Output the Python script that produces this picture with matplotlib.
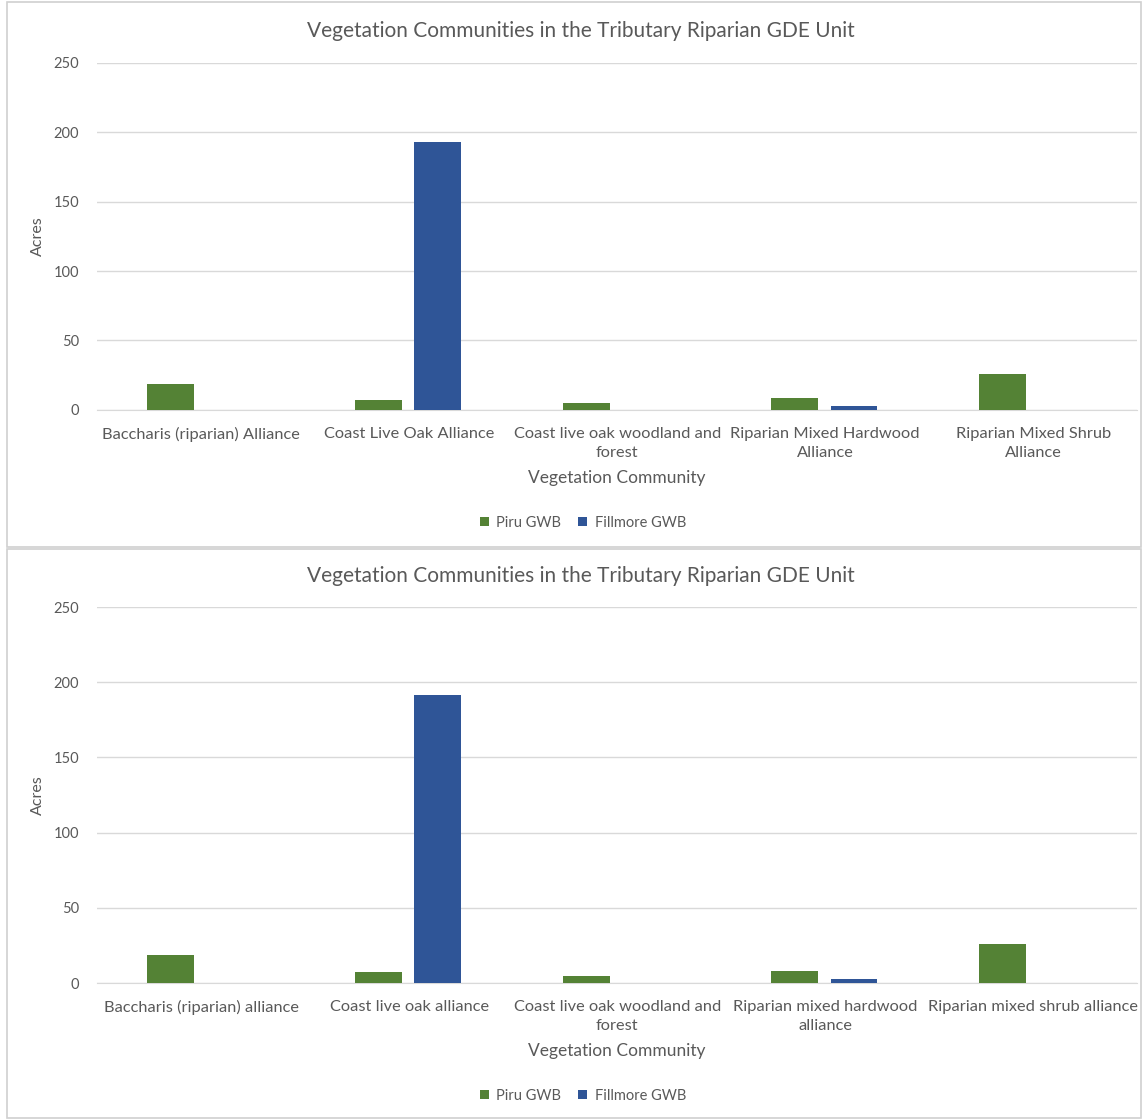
import matplotlib
matplotlib.use('Agg')
from matplotlib import pyplot as plt
from matplotlib.patches import Rectangle
import numpy as np

plt.rcParams['font.family'] = ['Lato', 'DejaVu Sans']

title = "Vegetation Communities in the Tributary Riparian GDE Unit"
series_names = ['Piru GWB', 'Fillmore GWB']

top_categories = ['Baccharis (riparian) Alliance', 'Coast Live Oak Alliance',
                  'Coast live oak woodland and\nforest', 'Riparian Mixed Hardwood\nAlliance',
                  'Riparian Mixed Shrub\nAlliance']
top_piru = [18.5, 7.2, 4.8, 8.3, 25.8]
top_fillmore = [0, 193.0, 0, 2.5, 0]

bottom_categories = ['Baccharis (riparian) alliance', 'Coast live oak alliance',
                     'Coast live oak woodland and\nforest', 'Riparian mixed hardwood\nalliance',
                     'Riparian mixed shrub alliance']
bottom_piru = [18.5, 7.2, 4.8, 8.3, 25.8]
bottom_fillmore = [0, 191.5, 0, 2.5, 0]

yticks = [0, 50, 100, 150, 200, 250]

green = '#548235'
blue = '#2F5597'
text_col = '#595959'
grid_col = '#d9d9d9'

fig = plt.figure(figsize=(11.43, 11.2), dpi=100)


def draw_chart(ax, cats, piru, fillmore, box, title_y, legend_y):
    # box around the chart, in figure coords
    fig.patches.append(Rectangle((box[0], box[1]), box[2], box[3], transform=fig.transFigure,
                                 fill=False, edgecolor='#d0d0d0', linewidth=1.2))
    x = np.arange(len(cats))
    w = 0.225
    ax.bar(x - 0.147, piru, w, color=green, label=series_names[0], zorder=3)
    ax.bar(x + 0.138, fillmore, w, color=blue, label=series_names[1], zorder=3)
    ax.set_xlim(-0.5, len(cats) - 0.5)
    ax.set_ylim(0, 250)
    ax.set_yticks(yticks)
    ax.set_xticks(x)
    ax.set_xticklabels(cats, fontsize=11.8, color=text_col, linespacing=1.5)
    ax.tick_params(axis='both', length=0, colors=text_col)
    ax.tick_params(axis='y', pad=13, labelsize=10.5)
    ax.tick_params(axis='x', pad=12)
    ax.grid(axis='y', color=grid_col, linewidth=1, zorder=0)
    for s in ['top', 'right', 'left']:
        ax.spines[s].set_visible(False)
    ax.spines['bottom'].set_color(grid_col)
    fig.text(0.508, title_y, title, fontsize=15, color=text_col, ha='center', va='center')
    ax.set_ylabel('Acres', fontsize=11.5, color=text_col, labelpad=6)
    ax.set_xlabel('Vegetation Community', fontsize=12.5, color=text_col, labelpad=7)
    ax.legend(loc='center', bbox_to_anchor=(0.51, legend_y), bbox_transform=fig.transFigure,
              ncol=2, frameon=False, fontsize=10.5, handlelength=0.6, handleheight=0.6,
              columnspacing=1.2, handletextpad=0.5, labelcolor=text_col)


ax1 = fig.add_axes([0.085, 0.634, 0.91, 0.310])
draw_chart(ax1, top_categories, top_piru, top_fillmore,
           (0.006, 0.512, 0.992, 0.486), 1 - 31 / 1120, 1 - 523 / 1120)

ax2 = fig.add_axes([0.085, 0.1223, 0.91, 0.3357])
draw_chart(ax2, bottom_categories, bottom_piru, bottom_fillmore,
           (0.006, 0.002, 0.992, 0.508), 1 - 576 / 1120, 1 - 1096 / 1120)

fig.savefig('out.png', dpi=100)
